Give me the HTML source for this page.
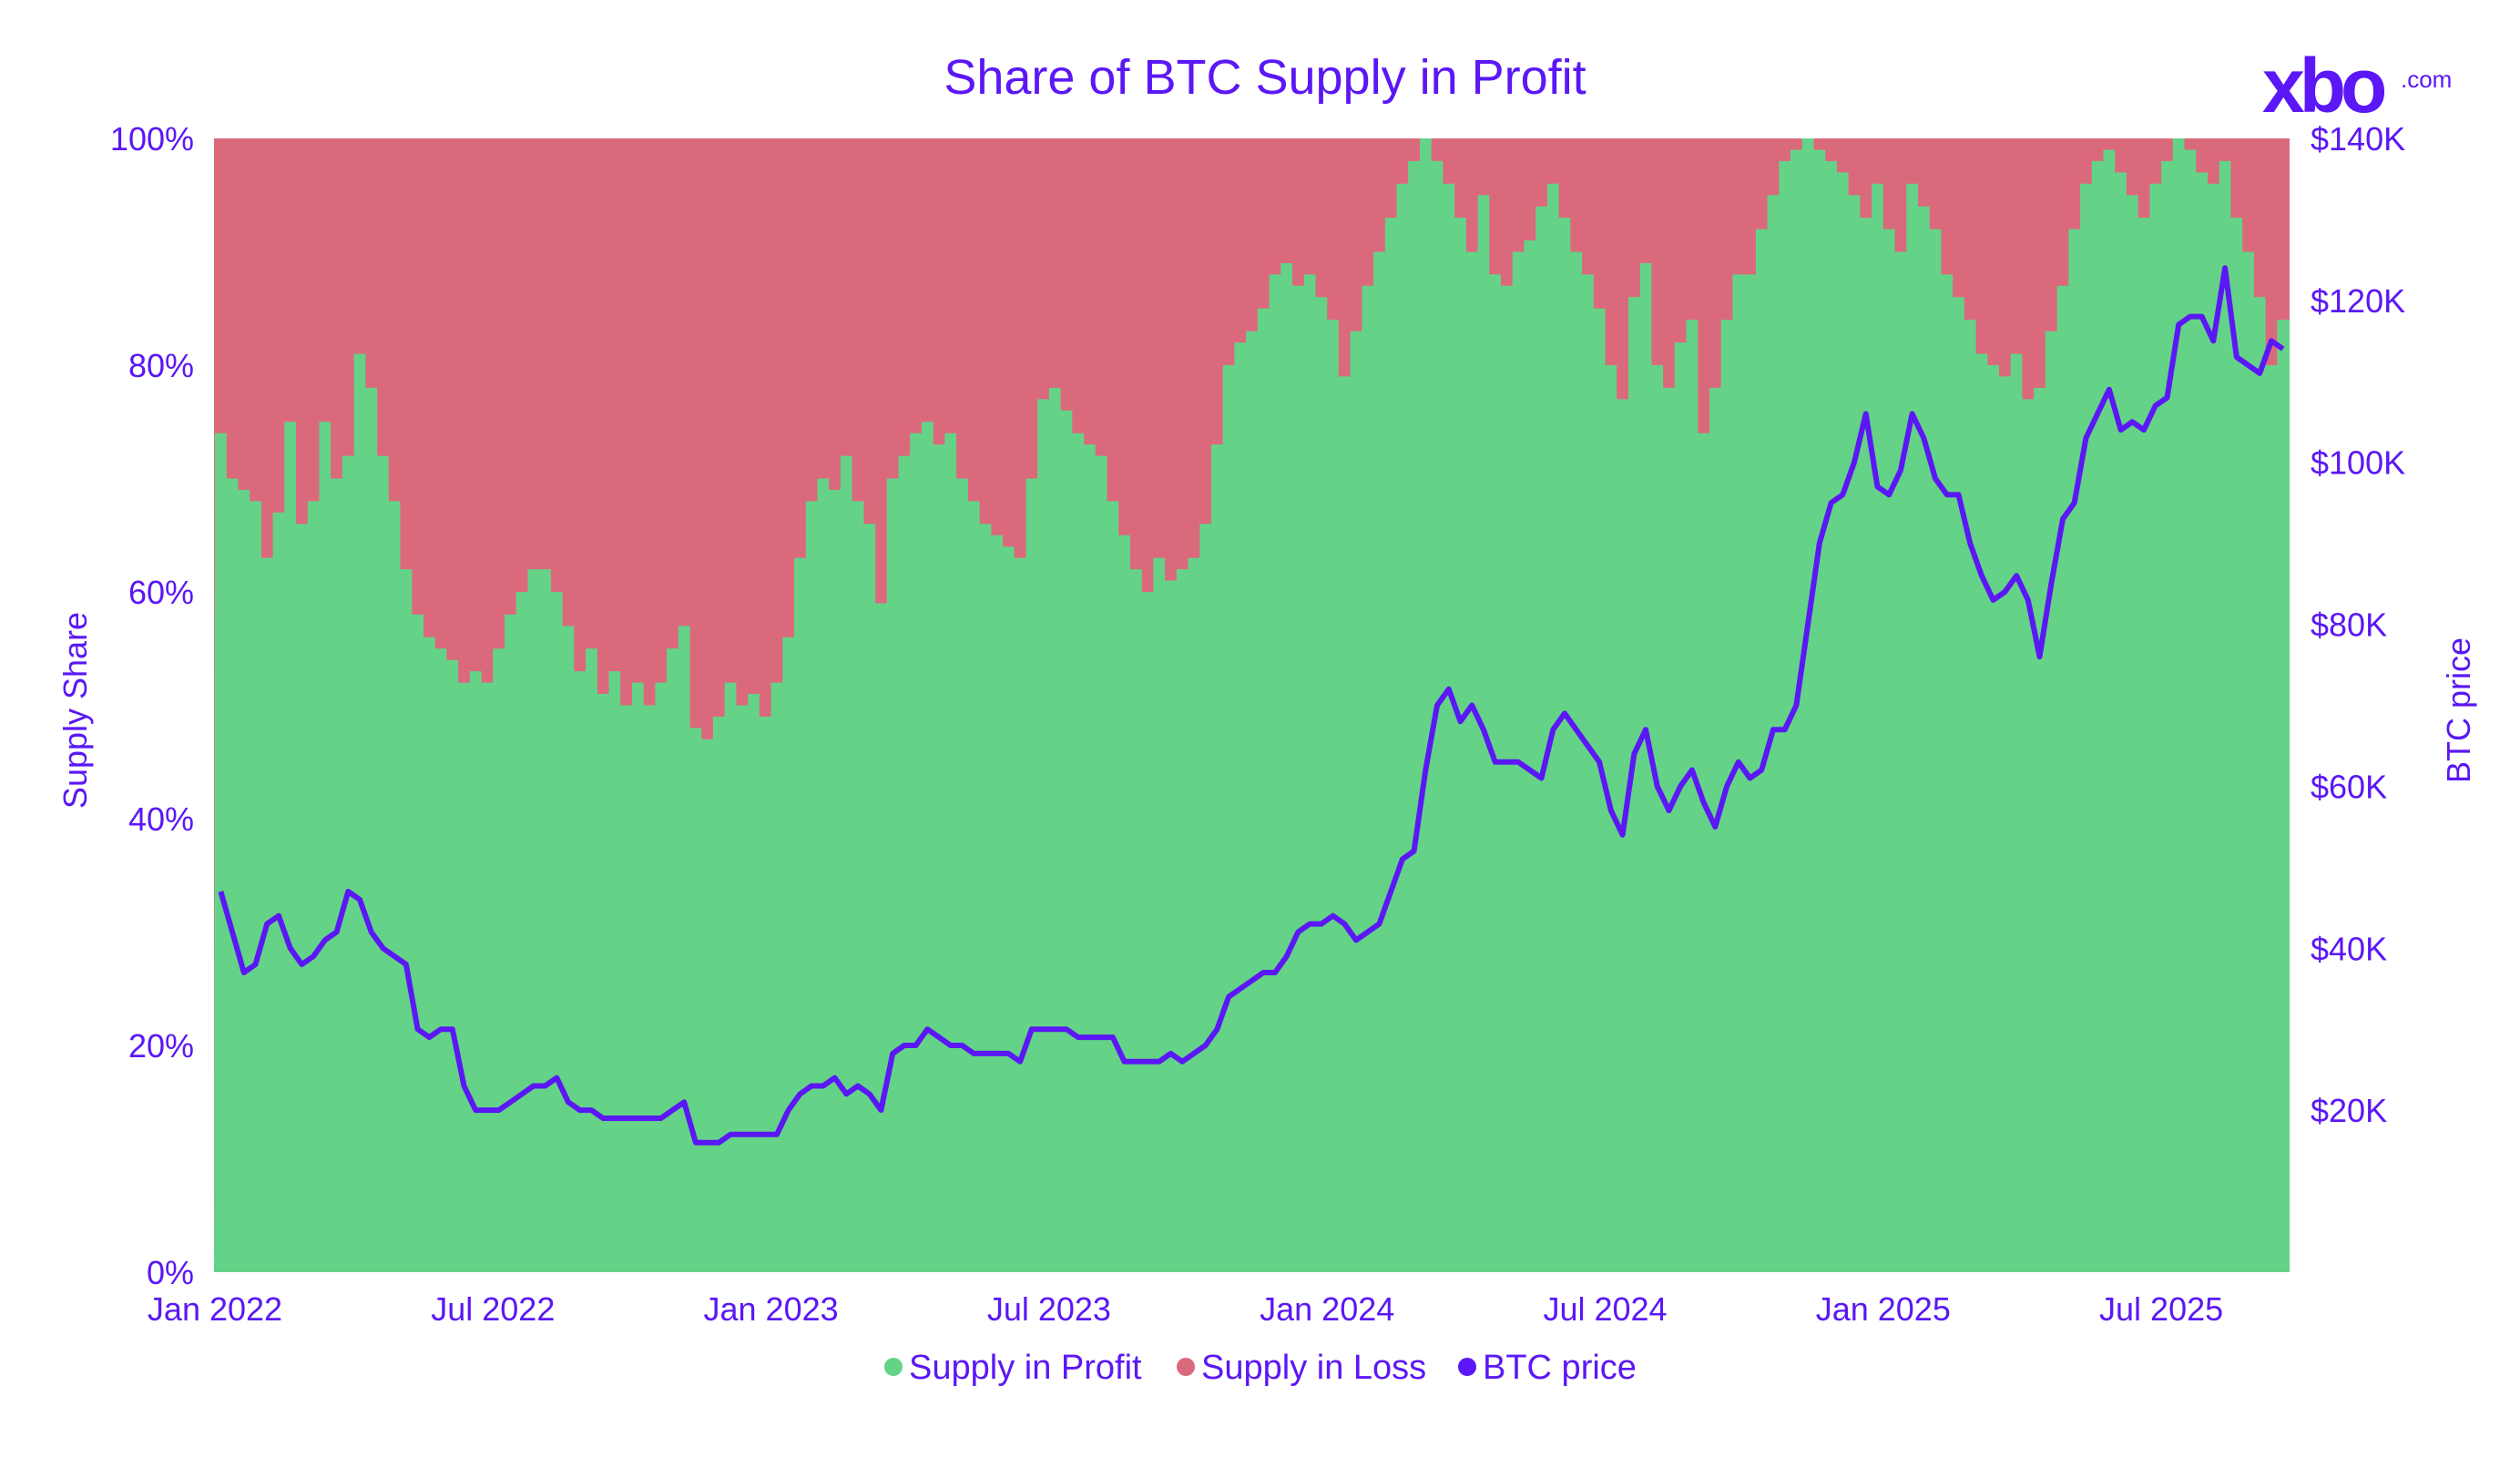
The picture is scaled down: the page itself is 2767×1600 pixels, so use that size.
<!DOCTYPE html>
<html><head><meta charset="utf-8"><style>
html,body{margin:0;padding:0;background:#fff;}
svg{display:block;font-family:"Liberation Sans",sans-serif;}
</style></head><body>
<svg id="chart" width="2767" height="1600" viewBox="0 0 2767 1600" xmlns="http://www.w3.org/2000/svg">
<text x="1389" y="103" text-anchor="middle" font-size="54" fill="#5B17F5">Share of BTC Supply in Profit</text>
<g>
<text x="2484" y="123" font-size="84" font-weight="bold" fill="#5B17F5" letter-spacing="-6">xbo</text>
<text x="2636" y="96" font-size="26" fill="#5B17F5">.com</text>
</g>
<g id="plot"></g>
<g id="axes"></g>
<text transform="translate(95,780) rotate(-90)" text-anchor="middle" font-size="36" fill="#5B17F5">Supply Share</text>
<text transform="translate(2712,780) rotate(-90)" text-anchor="middle" font-size="36" fill="#5B17F5">BTC price</text>
<g font-size="38" fill="#5B17F5">
<g><circle cx="981" cy="1501" r="10" fill="#64D388"/><text x="998" y="1514">Supply in Profit</text></g>
<g><circle cx="1302" cy="1501" r="10" fill="#DB697C"/><text x="1319" y="1514">Supply in Loss</text></g>
<g><circle cx="1611" cy="1501" r="10" fill="#5B17F5"/><text x="1628" y="1514">BTC price</text></g>
</g>
</svg>
<script>
// weekly-ish samples, 4 per month starting Jan 2022
const profitShare = [
74,70,69,68, 63,67,75,66, 68,75,70,72, 81,78,72,68, 62,58,56,55, 54,52,53,52,
55,58,60,62, 62,60,57,53, 55,51,53,50, 52,50,52,55, 57,48,47,49, 52,50,51,49,
52,56,63,68, 70,69,72,68, 66,59,70,72, 74,75,73,74, 70,68,66,65, 64,63,70,77,
78,76,74,73, 72,68,65,62, 60,63,61,62, 63,66,73,80, 82,83,85,88, 89,87,88,86,
84,79,83,87, 90,93,96,98, 100,98,96,93, 90,95,88,87, 90,91,94,96, 93,90,88,85,
80,77,86,89, 80,78,82,84, 74,78,84,88, 88,92,95,98, 99,100,99,98, 97,95,93,96,
92,90,96,94, 92,88,86,84, 81,80,79,81, 77,78,83,87, 92,96,98,99, 97,95,93,96,
98,100,99,97, 96,98,93,90, 86,80,84];
const btcPrice = [
47,42,37,38, 43,44,40,38, 39,41,42,47, 46,42,40,39, 38,30,29,30, 30,23,20,20,
20,21,22,23, 23,24,21,20, 20,19,19,19, 19,19,19,20, 21,16,16,16, 17,17,17,17,
17,20,22,23, 23,24,22,23, 22,20,27,28, 28,30,29,28, 28,27,27,27, 27,26,30,30,
30,30,29,29, 29,29,26,26, 26,26,27,26, 27,28,30,34, 35,36,37,37, 39,42,43,43,
44,43,41,42, 43,47,51,52, 62,70,72,68, 70,67,63,63, 63,62,61,67, 69,67,65,63,
57,54,64,67, 60,57,60,62, 58,55,60,63, 61,62,67,67, 70,80,90,95, 96,100,106,97,
96,99,106,103, 98,96,96,90, 86,83,84,86, 83,76,85,93, 95,103,106,109, 104,105,104,107,
108,117,118,118, 115,124,113,112, 111,115,114];
const leftTicks = [0,20,40,60,80,100];
const rightTicks = [20,40,60,80,100,120,140];
const xTickLabels = ["Jan 2022","Jul 2022","Jan 2023","Jul 2023","Jan 2024","Jul 2024","Jan 2025","Jul 2025"];
const xTickYears = [0,0.5,1,1.5,2,2.5,3,3.5];

const L=235,R=2514,T=152,B=1397,H=B-T;
const NS='http://www.w3.org/2000/svg';
function xS(yrs){return 236+yrs*610.6;}
function yL(p){return B-p/100*H;}
function yR(v){return B-v/140*H;}
function tOf(i){return (i/4)/12;}
function mk(tag,attrs,parent){const e=document.createElementNS(NS,tag);for(const k in attrs)e.setAttribute(k,attrs[k]);parent.appendChild(e);return e;}
const plot=document.getElementById('plot'), axes=document.getElementById('axes');

const loss=mk('rect',{x:L,y:T,width:R-L,height:H,fill:'#DB697C'},plot);



let d='M'+L+','+B;
profitShare.forEach((p,i)=>{const x0=Math.max(L,xS(tOf(i)));const x1=Math.min(R,xS(tOf(i+1)));d+=' L'+x0.toFixed(1)+','+yL(p).toFixed(1)+' L'+x1.toFixed(1)+','+yL(p).toFixed(1);});
d+=' L'+R+','+yL(profitShare[profitShare.length-1]).toFixed(1)+' L'+R+','+B+' Z';
const prof=mk('path',{d:d,fill:'#64D388'},plot);



let ld='';
btcPrice.forEach((v,i)=>{const x=Math.min(R,xS(tOf(i)+1/96));ld+=(i?' L':'M')+x.toFixed(1)+','+yR(v).toFixed(1);});
const line=mk('path',{d:ld,fill:'none',stroke:'#5B17F5','stroke-width':6,'stroke-linejoin':'round'},plot);



leftTicks.forEach(t=>{const e=mk('text',{x:213,y:yL(t)+13,'text-anchor':'end','font-size':36,fill:'#5B17F5'},axes);e.textContent=t+'%';

});
rightTicks.forEach(t=>{const e=mk('text',{x:2537,y:yR(t)+13,'font-size':36,fill:'#5B17F5'},axes);e.textContent='$'+t+'K';

});
xTickLabels.forEach((s,i)=>{const e=mk('text',{x:xS(xTickYears[i]),y:1450,'text-anchor':'middle','font-size':36,fill:'#5B17F5'},axes);e.textContent=s;

});
</script>
</body></html>
